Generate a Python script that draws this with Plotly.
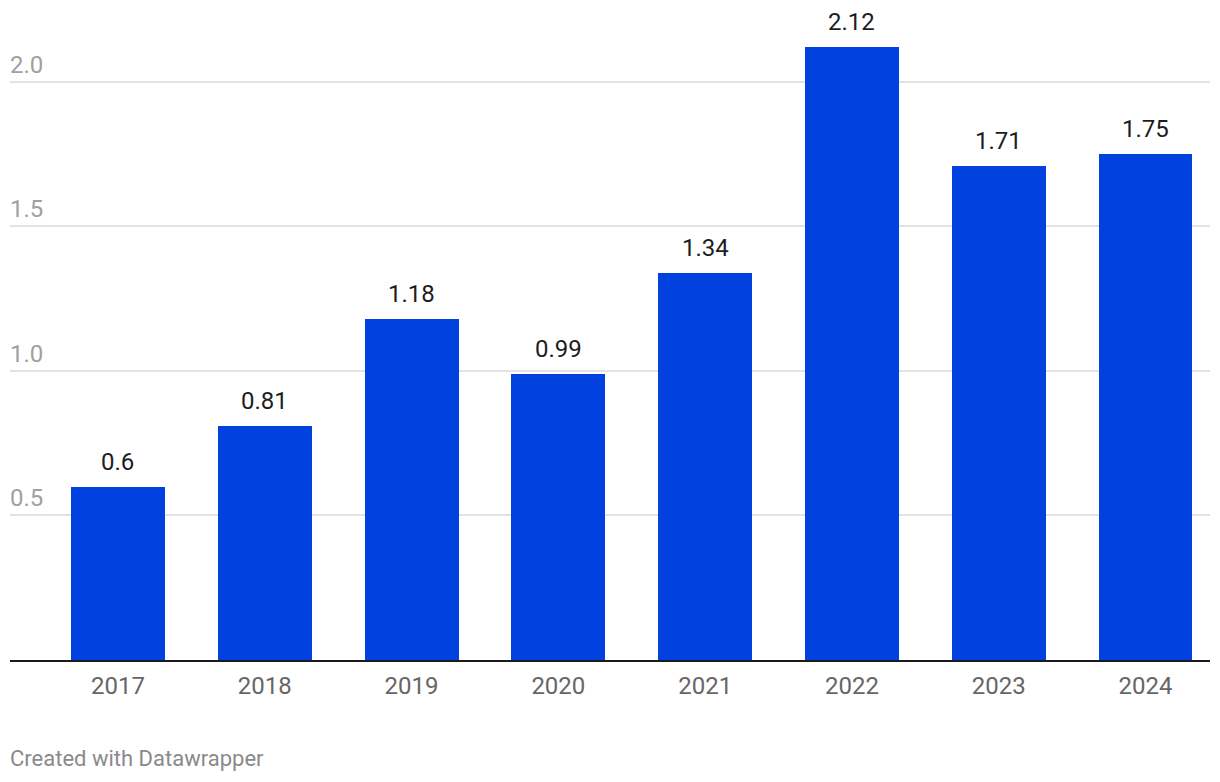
import plotly.graph_objects as go

years = ["2017", "2018", "2019", "2020", "2021", "2022", "2023", "2024"]
values = [0.6, 0.81, 1.18, 0.99, 1.34, 2.12, 1.71, 1.75]
labels = ["0.6", "0.81", "1.18", "0.99", "1.34", "2.12", "1.71", "1.75"]
y_ticks = [0.5, 1.0, 1.5, 2.0]
y_tick_text = ["0.5", "1.0", "1.5", "2.0"]

FONT = "Roboto"
BLUE = "#0141e0"

fig = go.Figure()
fig.add_trace(go.Bar(
    x=list(range(len(years))), y=values, width=0.64,
    marker=dict(color=BLUE, line=dict(width=0)),
    hoverinfo="skip",
))

for i, (v, t) in enumerate(zip(values, labels)):
    fig.add_annotation(x=i, y=v, text=t, showarrow=False, xref="x", yref="y",
                       yanchor="bottom", yshift=9,
                       font=dict(family=FONT, size=24, color="#1d1d1d"))

for v, t in zip(y_ticks, y_tick_text):
    fig.add_annotation(x=0, xref="paper", y=v, yref="y", text=t, showarrow=False,
                       xanchor="left", yanchor="bottom", yshift=1, xshift=-2,
                       font=dict(family=FONT, size=24, color="#a0a0a0"))

fig.add_annotation(x=0, xref="paper", y=0, yref="paper", yshift=-84,
                   text="Created with Datawrapper", showarrow=False,
                   xanchor="left", yanchor="top", xshift=-2,
                   font=dict(family=FONT, size=22, color="#8a8a8a"))

fig.update_layout(
    width=1212, height=774,
    margin=dict(l=2, r=10, t=2, b=122),
    plot_bgcolor="white", paper_bgcolor="white",
    showlegend=False,
    bargap=0,
    xaxis=dict(
        range=[-0.7357, 7.4394],
        tickmode="array", tickvals=list(range(len(years))), ticktext=years,
        showgrid=False, zeroline=False,
        showline=True, linecolor="#1a1a1a", linewidth=2,
        ticks="", ticklabelstandoff=3,
        tickfont=dict(family=FONT, size=24, color="#666666"),
        fixedrange=True,
    ),
    yaxis=dict(
        range=[0, 2.249],
        tickmode="array", tickvals=y_ticks, showticklabels=False,
        showgrid=True, gridcolor="#e2e2e2", gridwidth=2,
        zeroline=False, showline=False, ticks="",
        fixedrange=True,
    ),
)

fig.write_html("out.html")
